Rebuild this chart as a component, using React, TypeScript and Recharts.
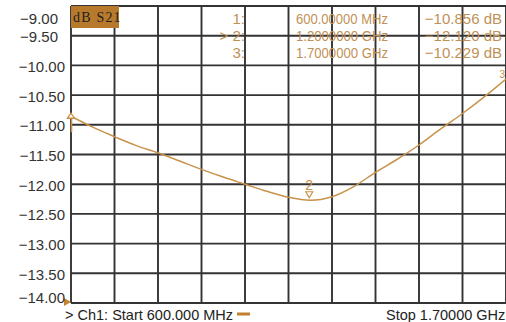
import { LineChart, Line, XAxis, YAxis, CartesianGrid, ReferenceDot, ReferenceLine } from "recharts";

// S21 trace (every 55 MHz)
const freqMHz = [600, 655, 710, 765, 820, 875, 930, 985, 1040, 1095, 1150, 1205, 1260, 1315, 1370, 1425, 1480, 1535, 1590, 1645, 1700];
const s21dB = [-10.856, -11.04, -11.2, -11.35, -11.47, -11.61, -11.75, -11.88, -12.0, -12.12, -12.22, -12.27, -12.21, -12.04, -11.8, -11.58, -11.34, -11.07, -10.81, -10.53, -10.229];

const gridFreqs = [600, 710, 820, 930, 1040, 1150, 1260, 1370, 1480, 1590, 1700];
const dbTicks = [-14, -13.5, -13, -12.5, -12, -11.5, -11, -10.5, -10, -9.5, -9];

const markerIds = ["1", "2", "3"];
const markerFreqs = [600, 1205, 1700];
const markerTrace = [-10.856, -12.27, -10.229];
const markerFreqText = ["600.00000 MHz", "1.2000000 GHz", "1.7000000 GHz"];
const markerValText = ["\u221210.856 dB", "\u221212.120 dB", "\u221210.229 dB"];

const data = freqMHz.map((f, i) => ({ f, db: s21dB[i] }));

const TRACE = "#c8924a";
const MARK = "#bf9156";
const GRID = "#333333";
const FONT = "'Liberation Sans', Arial, sans-serif";

const YTick = (props: any) => {
  const { x, y, payload } = props;
  const v = payload.value as number;
  let dy = 1;
  if (v === -9) dy = 12;
  if (v === -14) dy = -6;
  const dx = v > -10 ? -7 : 0;
  return (
    <text x={x + dx} y={y + dy} textAnchor="end" dominantBaseline="central" fontSize={15} fill="#333" fontFamily={FONT}>
      {"\u2212" + Math.abs(v).toFixed(2)}
    </text>
  );
};

const Marker1 = ({ cx, cy }: any) => (
  <g>
    <path d={`M${cx - 3.5},${cy + 2} L${cx},${cy - 3} L${cx + 3.5},${cy + 2} Z`} fill="#fff" stroke={TRACE} strokeWidth={1.3} />
    <line x1={cx + 0.5} y1={cy + 2} x2={cx + 0.5} y2={cy + 16} stroke={TRACE} strokeWidth={1.6} />
  </g>
);

const Marker2 = ({ cx, cy }: any) => (
  <g>
    <text x={cx - 1} y={cy - 10} textAnchor="middle" fontSize={14} fill={TRACE} fontFamily={FONT}>2</text>
    <path d={`M${cx - 4.5},${cy - 8.5} L${cx + 2.5},${cy - 8.5} L${cx - 1},${cy - 2.5} Z`} fill="none" stroke={TRACE} strokeWidth={1.2} />
  </g>
);

const Marker3 = ({ cx, cy }: any) => (
  <text x={cx - 1} y={cy - 1} textAnchor="end" fontSize={10} fill={TRACE} fontFamily={FONT}>3</text>
);

const RefLevel = ({ cx, cy }: any) => (
  <path d={`M${cx - 7},${cy - 5} L${cx},${cy - 1} L${cx - 7},${cy + 3} Z`} fill="#c28430" />
);

export default function App() {
  return (
    <div style={{ position: "absolute", left: 0, top: 0, width: 506, height: 322, background: "#fff" }}>
      <LineChart width={506} height={322} data={data} margin={{ top: 6, right: 0, bottom: 0, left: 0 }}>
        <CartesianGrid stroke={GRID} strokeWidth={1.9} vertical={false} />
        <XAxis
          dataKey="f"
          type="number"
          domain={[600, 1700]}
          ticks={gridFreqs}
          height={19}
          tick={false}
          axisLine={false}
          tickLine={false}
        />
        <YAxis
          type="number"
          domain={[-14, -9]}
          ticks={dbTicks}
          width={71}
          axisLine={false}
          tickLine={false}
          tickSize={6}
          tickMargin={0}
          tick={<YTick />}
          interval={0}
        />
        {gridFreqs.map((f) => (
          <ReferenceLine key={f} x={f} stroke={GRID} strokeWidth={1.9} ifOverflow="visible" />
        ))}
        <Line dataKey="db" type="monotone" stroke={TRACE} strokeWidth={1.5} dot={false} isAnimationActive={false} />
        <ReferenceDot x={markerFreqs[0]} y={markerTrace[0]} shape={<Marker1 />} ifOverflow="visible" />
        <ReferenceDot x={markerFreqs[1]} y={markerTrace[1]} shape={<Marker2 />} ifOverflow="visible" />
        <ReferenceDot x={markerFreqs[2]} y={markerTrace[2]} shape={<Marker3 />} ifOverflow="visible" />
        <ReferenceDot x={600} y={-14} shape={<RefLevel />} ifOverflow="visible" />
      </LineChart>

      <svg width={506} height={322} style={{ position: "absolute", left: 0, top: 0, pointerEvents: "none" }}>
        <rect x={71} y={6} width={48} height={22} fill="#b77a2c" />
        <text x={73} y={22} fontSize={14} letterSpacing={1.2} fill="#1e1e1e" fontFamily="'Liberation Serif', 'DejaVu Serif', serif">dB S21</text>

        {markerIds.map((id, i) => (
          <g key={id} fontFamily={FONT} fontSize={15} fill={MARK}>
            <text x={245} y={23.5 + i * 17} textAnchor="end">{(i === 1 ? "> " : "") + id + ":"}</text>
            <text x={296} y={23.5 + i * 17} textLength={92} lengthAdjust="spacingAndGlyphs">{markerFreqText[i]}</text>
            <text x={502} y={23.5 + i * 17} textAnchor="end">{markerValText[i]}</text>
          </g>
        ))}

        <text x={65} y={320} fontSize={14.5} fill="#222" fontFamily={FONT}>{"> Ch1: Start 600.000 MHz"}</text>
        <line x1={237} y1={314} x2={250} y2={314} stroke="#c08030" strokeWidth={3} />
        <text x={386} y={320} fontSize={14.5} fill="#222" fontFamily={FONT}>Stop 1.70000 GHz</text>
      </svg>
    </div>
  );
}
